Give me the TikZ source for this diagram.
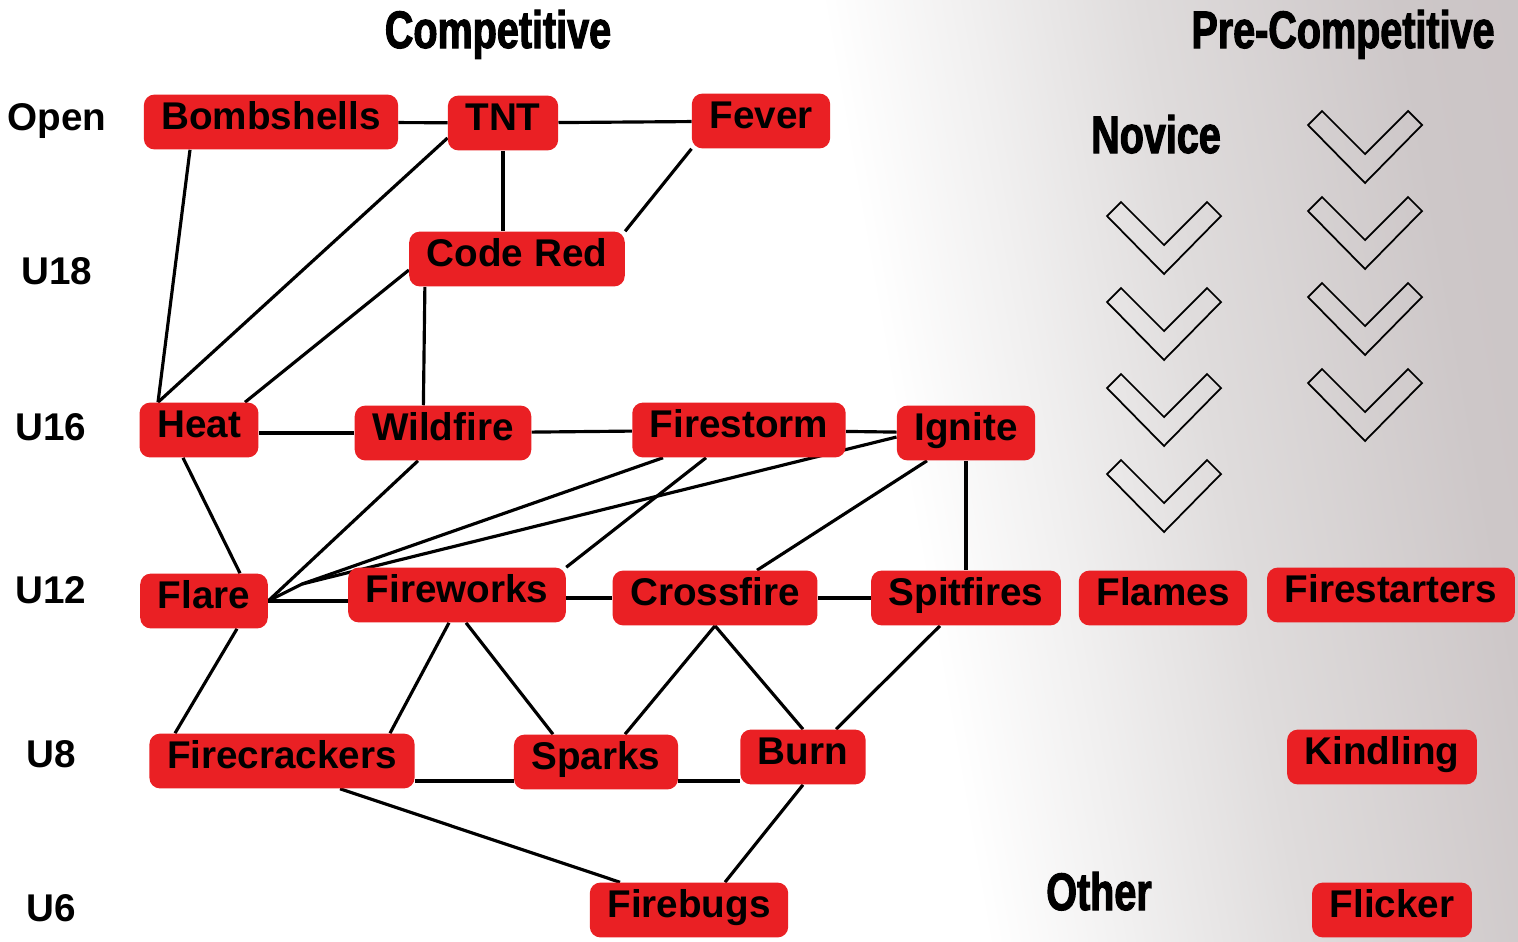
\documentclass[tikz,border=0pt]{standalone}
\usepackage{fontspec}
\setmainfont{Liberation Sans}
\newfontfamily\headfont[FakeStretch=0.75,FakeBold=2]{Liberation Sans}
\usetikzlibrary{calc,positioning}
\definecolor{teamred}{RGB}{234,32,36}
\definecolor{bglight}{RGB}{241,240,240}
\definecolor{bgmid}{RGB}{223,220,220}
\definecolor{bggrey}{RGB}{205,199,200}
\definecolor{bgdark}{RGB}{194,184,186}
\pgfdeclarelayer{back}
\pgfdeclarelayer{edges}
\pgfsetlayers{back,edges,main}
\pgfdeclarehorizontalshading{fade}{100bp}{color(0bp)=(white); color(55bp)=(white);
    color(60bp)=(bglight); color(66bp)=(bgmid); color(75bp)=(bggrey); color(100bp)=(bgdark)}
\tikzset{
    team/.style={fill=teamred, rounded corners=6pt, font=\fontsize{22}{24}\selectfont\bfseries,
        text height=15.4pt, text depth=6.8pt, inner ysep=4.5pt, inner xsep=10pt},
    grade/.style={font=\fontsize{22}{24}\selectfont\bfseries, anchor=base},
    head/.style={font=\headfont\bfseries\fontsize{30}{32}\selectfont, anchor=base},
    link/.style={line width=1.8pt},
    chev/.style={line width=1pt}
}

\begin{document}
\begin{tikzpicture}[x=0.02cm, y=-0.02cm]
                        \useasboundingbox (0, 0) rectangle (1518, 941);
                        \begin{pgfonlayer}{back}
                            \shade[shading=fade, shading angle=10] (0, 0) rectangle (1518, 941);
                        \end{pgfonlayer}
                        % headings
                        \node[head] (comp) at (498, 48) {Competitive};
                        \node[head] (precomp) at (1343, 48) {Pre-Competitive};
                        \node[head] (novice) at (1156, 153) {Novice};
                        \node[head] (other) at (1099, 910) {Other};
                        % age groups
                        \node[grade] (open) at (57, 130) {Open};
                        \node[grade] (u18) at (57, 284) {U18};
                        \node[grade] (u16) at (51, 440) {U16};
                        \node[grade] (u12) at (51, 603) {U12};
                        \node[grade] (u8) at (51, 767) {U8};
                        \node[grade] (u6) at (51, 921) {U6};
                        % teams
                        \node[team] (Bombshells) at (271, 122) {Bombshells};
                        \node[team] (TNT) at (503, 123) {TNT};
                        \node[team] (Fever) at (761, 121) {Fever};
                        \node[team] (CodeRed) at (517, 259) {Code Red};
                        \node[team] (Heat) at (199, 430) {Heat};
                        \node[team] (Wildfire) at (443, 433) {Wildfire};
                        \node[team] (Firestorm) at (739, 430) {Firestorm};
                        \node[team] (Ignite) at (966, 433) {Ignite};
                        \node[team] (Flare) at (204, 601) {Flare};
                        \node[team] (Fireworks) at (457, 595) {Fireworks};
                        \node[team] (Crossfire) at (715, 598) {Crossfire};
                        \node[team] (Spitfires) at (966, 598) {Spitfires};
                        \node[team] (Flames) at (1163, 598) {Flames};
                        \node[team] (Firestarters) at (1391, 595) {Firestarters};
                        \node[team] (Firecrackers) at (282, 761) {Firecrackers};
                        \node[team] (Sparks) at (596, 762) {Sparks};
                        \node[team] (Burn) at (803, 757) {Burn};
                        \node[team] (Kindling) at (1382, 757) {Kindling};
                        \node[team] (Firebugs) at (689, 910) {Firebugs};
                        \node[team] (Flicker) at (1392, 910) {Flicker};
                        % chevrons
                        \foreach \cx/\cy in {1164/202, 1164/288, 1164/374, 1164/460,
                                             1365/111, 1365/197, 1365/283, 1365/369}
                            \draw[chev] (\cx-43, \cy) -- ++(43, 43) -- ++(43, -43) -- ++(14, 14)
                                -- ++(-57, 58) -- ++(-57, -58) -- cycle;
                        % links
                        \coordinate (flareJoin) at ($(Flare.east)+(34, -17)$);
                        \begin{pgfonlayer}{edges}
                        \draw[link] (Bombshells) -- (TNT);
                        \draw[link] (TNT) -- (Fever);
                        \draw[link] (TNT.south) -- (TNT.south |- CodeRed.north);
                        \draw[link] (Fever.south west) -- (CodeRed.north east);
                        \draw[link] ($(Bombshells.south)+(-81, 0)$) -- ($(Heat.north)+(-41, 0)$);
                        \draw[link] ($(TNT.west)+(0, 15)$) -- ($(Heat.north)+(-41, 0)$);
                        \draw[link] ($(CodeRed.west)+(0, 11)$) -- ($(Heat.north)+(46, 0)$);
                        \draw[link] ($(CodeRed.south west)+(16, 0)$) -- ($(Wildfire.north west)+(69, 0)$);
                        \draw[link] (Wildfire.west) -- (Wildfire.west -| Heat.east);
                        \draw[link] (Wildfire) -- (Firestorm);
                        \draw[link] (Firestorm) -- (Ignite);
                        \draw[link] ($(Heat.south)+(-16, 0)$) -- ($(Flare.north)+(36, 0)$);
                        \draw[link] ($(Wildfire.south)+(-25, 0)$) -- (Flare.east);
                        \draw[link] ($(Firestorm.south)+(-76, 0)$) -- (flareJoin) -- (Flare.east);
                        \draw[link] ($(Ignite.west)+(0, 4)$) -- (flareJoin);
                        \draw[link] ($(Firestorm.south)+(-33, 0)$) -- (Fireworks.north east);
                        \draw[link] ($(Ignite.south)+(-39, 0)$) -- ($(Crossfire.north)+(42, 0)$);
                        \draw[link] (Ignite) -- (Spitfires);
                        \draw[link] (Flare.east) -- (Flare.east -| Fireworks.west);
                        \draw[link] (Crossfire.west) -- (Crossfire.west -| Fireworks.east);
                        \draw[link] (Crossfire) -- (Spitfires);
                        \draw[link] ($(Flare.south)+(33, 0)$) -- ($(Firecrackers.north)+(-107, 0)$);
                        \draw[link] ($(Fireworks.south)+(-8, 0)$) -- ($(Firecrackers.north)+(108, 0)$);
                        \draw[link] ($(Fireworks.south)+(9, 0)$) -- ($(Sparks.north)+(-43, 0)$);
                        \draw[link] (Crossfire.south) -- ($(Sparks.north)+(29, 0)$);
                        \draw[link] (Crossfire.south) -- (Burn.north);
                        \draw[link] ($(Spitfires.south)+(-26, 0)$) -- ($(Burn.north)+(33, 0)$);
                        \draw[link] ($(Firecrackers.east)+(0, 20)$) -- ($(Sparks.west)+(0, 19)$);
                        \draw[link] ($(Sparks.east)+(0, 19)$) -- ($(Burn.west)+(0, 24)$);
                        \draw[link] ($(Firecrackers.south)+(58, 0)$) -- ($(Firebugs.north)+(-69, 0)$);
                        \draw[link] (Burn.south) -- ($(Firebugs.north)+(36, 0)$);
                        \end{pgfonlayer}
                    \end{tikzpicture}
\end{document}
